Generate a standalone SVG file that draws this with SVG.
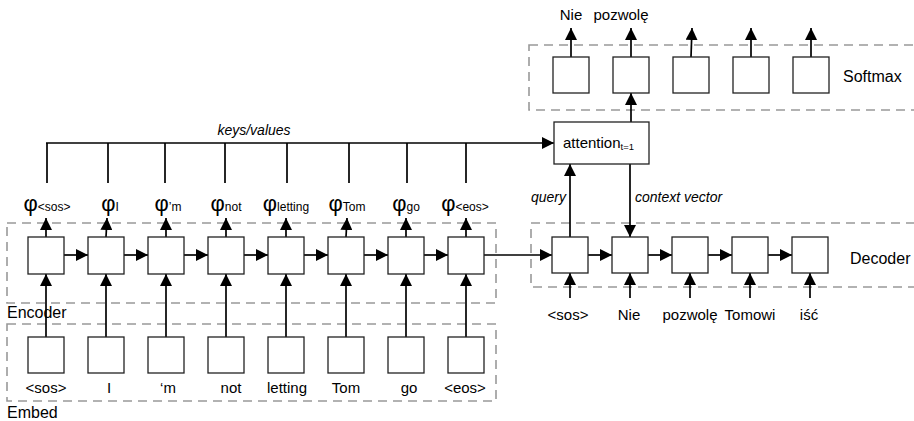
<svg xmlns="http://www.w3.org/2000/svg" width="914" height="421" viewBox="0 0 914 421">
  <defs>
    <marker id="arrow" viewBox="0 0 10 10" refX="10" refY="5" markerWidth="12" markerHeight="12" markerUnits="userSpaceOnUse" orient="auto">
      <path d="M0,0 L10,5 L0,10 Z" fill="#000"/>
    </marker>
    <style>
      text { font-family: "Liberation Sans", Arial, sans-serif; fill: #000; }
      .box { fill: #fff; stroke: #222; stroke-width: 1.3; }
      .group { fill: none; stroke: #999; stroke-width: 1.6; stroke-dasharray: 9 6; }
      line { stroke: #000; stroke-width: 1.7; }
      .arr { marker-end: url(#arrow); }
      .lbl { font-size: 15px; text-anchor: middle; }
      .title { font-size: 16px; }
      .note { font-size: 14px; font-style: italic; }
      .phi { text-anchor: middle; }
      .phi .g { font-size: 22px; }
      .phi .s { font-size: 12px; }
    </style>
  </defs>

  <!-- layer frames -->
  <g id="frames">
    <rect class="group" x="7" y="223" width="489" height="80"/>
    <rect class="group" x="7" y="324" width="489" height="77"/>
    <rect class="group" x="531" y="223" width="386" height="64"/>
    <rect class="group" x="529" y="45" width="388" height="65"/>
    <text class="title" x="7" y="318">Encoder</text>
    <text class="title" x="7" y="418">Embed</text>
    <text class="title" x="850" y="264">Decoder</text>
    <text class="title" x="843" y="82">Softmax</text>
  </g>

  <!-- connectors -->
  <g id="connectors">
    <!-- embed to encoder -->
    <line class="arr" x1="46" y1="337" x2="46" y2="274"/>
    <line class="arr" x1="106" y1="337" x2="106" y2="274"/>
    <line class="arr" x1="166" y1="337" x2="166" y2="274"/>
    <line class="arr" x1="226" y1="337" x2="226" y2="274"/>
    <line class="arr" x1="286" y1="337" x2="286" y2="274"/>
    <line class="arr" x1="346" y1="337" x2="346" y2="274"/>
    <line class="arr" x1="406" y1="337" x2="406" y2="274"/>
    <line class="arr" x1="466" y1="337" x2="466" y2="274"/>
    <!-- encoder recurrence -->
    <line class="arr" x1="64" y1="255" x2="88" y2="255"/>
    <line class="arr" x1="124" y1="255" x2="148" y2="255"/>
    <line class="arr" x1="184" y1="255" x2="208" y2="255"/>
    <line class="arr" x1="244" y1="255" x2="268" y2="255"/>
    <line class="arr" x1="304" y1="255" x2="328" y2="255"/>
    <line class="arr" x1="364" y1="255" x2="388" y2="255"/>
    <line class="arr" x1="424" y1="255" x2="448" y2="255"/>
    <!-- encoder outputs -->
    <line class="arr" x1="46" y1="237" x2="46" y2="218"/>
    <line class="arr" x1="106" y1="237" x2="107" y2="218"/>
    <line class="arr" x1="166" y1="237" x2="166" y2="218"/>
    <line class="arr" x1="226" y1="237" x2="226" y2="218"/>
    <line class="arr" x1="286" y1="237" x2="286" y2="218"/>
    <line class="arr" x1="346" y1="237" x2="347" y2="218"/>
    <line class="arr" x1="406" y1="237" x2="406" y2="218"/>
    <line class="arr" x1="466" y1="237" x2="466" y2="218"/>
    <!-- keys/values bus -->
    <line x1="47" y1="183" x2="47" y2="143"/>
    <line x1="108" y1="183" x2="108" y2="143"/>
    <line x1="165" y1="183" x2="165" y2="143"/>
    <line x1="225" y1="183" x2="225" y2="143"/>
    <line x1="287" y1="183" x2="287" y2="143"/>
    <line x1="349" y1="183" x2="349" y2="143"/>
    <line x1="407" y1="183" x2="407" y2="143"/>
    <line x1="466" y1="183" x2="466" y2="143"/>
    <line class="arr" x1="46" y1="143" x2="554" y2="143" stroke-width="2.2"/>
    <!-- encoder to decoder -->
    <line class="arr" x1="484" y1="255" x2="552" y2="255"/>
    <!-- decoder recurrence -->
    <line class="arr" x1="588" y1="255" x2="612" y2="255"/>
    <line class="arr" x1="648" y1="255" x2="672" y2="255"/>
    <line class="arr" x1="708" y1="255" x2="732" y2="255"/>
    <line class="arr" x1="768" y1="255" x2="792" y2="255"/>
    <!-- decoder inputs -->
    <line class="arr" x1="570" y1="298" x2="570" y2="273"/>
    <line class="arr" x1="630" y1="298" x2="630" y2="273"/>
    <line class="arr" x1="690" y1="298" x2="690" y2="273"/>
    <line class="arr" x1="750" y1="298" x2="750" y2="273"/>
    <line class="arr" x1="810" y1="298" x2="810" y2="273"/>
    <!-- query and context -->
    <line class="arr" x1="570" y1="237" x2="570" y2="164"/>
    <line class="arr" x1="630" y1="164" x2="630" y2="237" stroke-width="2.6"/>
    <!-- attention to softmax -->
    <line class="arr" x1="631" y1="122" x2="631" y2="93"/>
    <!-- softmax outputs -->
    <line class="arr" x1="571" y1="57" x2="571" y2="28"/>
    <line class="arr" x1="631" y1="57" x2="631" y2="28"/>
    <line class="arr" x1="691" y1="57" x2="692" y2="28"/>
    <line class="arr" x1="751" y1="57" x2="751" y2="28"/>
    <line class="arr" x1="811" y1="57" x2="811" y2="28"/>
    <text class="note" x="254" y="135" text-anchor="middle">keys/values</text>
    <text class="note" x="566" y="202" text-anchor="end">query</text>
    <text class="note" x="635" y="202">context vector</text>
  </g>

  <!-- embedding nodes -->
  <g id="embed">
    <rect class="box" x="28" y="337" width="36" height="36"/>
    <rect class="box" x="88" y="337" width="36" height="36"/>
    <rect class="box" x="148" y="337" width="36" height="36"/>
    <rect class="box" x="208" y="337" width="36" height="36"/>
    <rect class="box" x="268" y="337" width="36" height="36"/>
    <rect class="box" x="328" y="337" width="36" height="36"/>
    <rect class="box" x="388" y="337" width="36" height="36"/>
    <rect class="box" x="448" y="337" width="36" height="36"/>
    <text class="lbl" x="46" y="393">&lt;sos&gt;</text>
    <text class="lbl" x="109" y="393">I</text>
    <text class="lbl" x="168" y="393">‘m</text>
    <text class="lbl" x="231" y="393">not</text>
    <text class="lbl" x="287" y="393">letting</text>
    <text class="lbl" x="346" y="393">Tom</text>
    <text class="lbl" x="409" y="393">go</text>
    <text class="lbl" x="465" y="393">&lt;eos&gt;</text>
  </g>

  <!-- encoder nodes -->
  <g id="encoder">
    <rect class="box" x="28" y="237" width="36" height="37"/>
    <rect class="box" x="88" y="237" width="36" height="37"/>
    <rect class="box" x="148" y="237" width="36" height="37"/>
    <rect class="box" x="208" y="237" width="36" height="37"/>
    <rect class="box" x="268" y="237" width="36" height="37"/>
    <rect class="box" x="328" y="237" width="36" height="37"/>
    <rect class="box" x="388" y="237" width="36" height="37"/>
    <rect class="box" x="448" y="237" width="36" height="37"/>
    <text class="phi" x="47" y="211"><tspan class="g">φ</tspan><tspan class="s">&lt;sos&gt;</tspan></text>
    <text class="phi" x="110" y="211"><tspan class="g">φ</tspan><tspan class="s">I</tspan></text>
    <text class="phi" x="168" y="211"><tspan class="g">φ</tspan><tspan class="s">’m</tspan></text>
    <text class="phi" x="226" y="211"><tspan class="g">φ</tspan><tspan class="s">not</tspan></text>
    <text class="phi" x="286" y="211"><tspan class="g">φ</tspan><tspan class="s">letting</tspan></text>
    <text class="phi" x="347" y="211"><tspan class="g">φ</tspan><tspan class="s">Tom</tspan></text>
    <text class="phi" x="406" y="211"><tspan class="g">φ</tspan><tspan class="s">go</tspan></text>
    <text class="phi" x="465" y="211"><tspan class="g">φ</tspan><tspan class="s">&lt;eos&gt;</tspan></text>
  </g>

  <!-- attention node -->
  <g id="attention">
    <rect class="box" x="554" y="122" width="95" height="42" stroke-width="1.6"/>
    <text x="563" y="148" font-size="15">attention<tspan font-size="9.5" dy="2">t=1</tspan></text>
  </g>

  <!-- decoder nodes -->
  <g id="decoder">
    <rect class="box" x="552" y="237" width="36" height="36"/>
    <rect class="box" x="612" y="237" width="36" height="36"/>
    <rect class="box" x="672" y="237" width="36" height="36"/>
    <rect class="box" x="732" y="237" width="36" height="36"/>
    <rect class="box" x="792" y="237" width="36" height="36"/>
    <text class="lbl" x="568" y="320">&lt;sos&gt;</text>
    <text class="lbl" x="629" y="320">Nie</text>
    <text class="lbl" x="690" y="320">pozwolę</text>
    <text class="lbl" x="750" y="320">Tomowi</text>
    <text class="lbl" x="809" y="320">iść</text>
  </g>

  <!-- softmax nodes -->
  <g id="softmax">
    <rect class="box" x="553" y="57" width="36" height="36"/>
    <rect class="box" x="613" y="57" width="36" height="36"/>
    <rect class="box" x="673" y="57" width="36" height="36"/>
    <rect class="box" x="733" y="57" width="36" height="36"/>
    <rect class="box" x="793" y="57" width="36" height="36"/>
    <text class="lbl" x="571" y="20">Nie</text>
    <text class="lbl" x="621" y="20">pozwolę</text>
  </g>
</svg>
